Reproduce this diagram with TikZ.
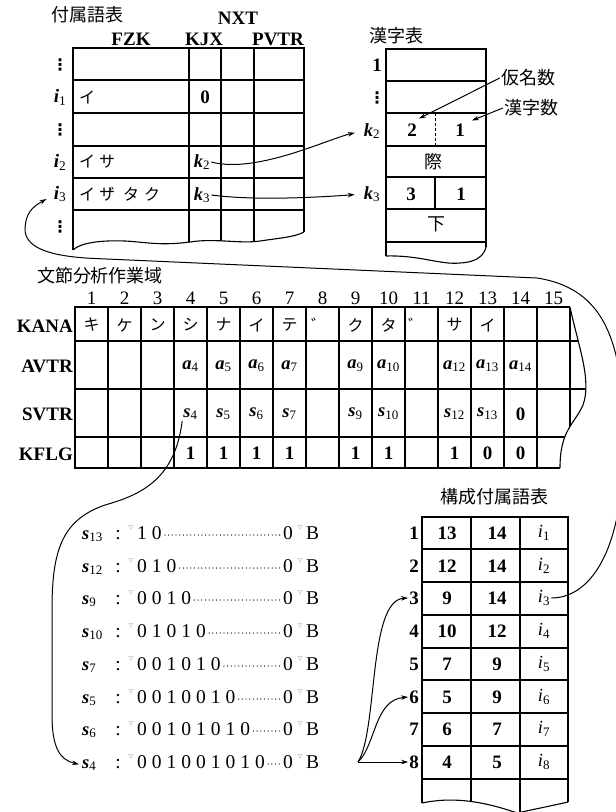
\documentclass[tikz,border=0pt]{standalone}
\usepackage{fontspec}
\setmainfont{Liberation Serif}
\newfontfamily\jpf{Noto Sans CJK JP}
\newfontfamily\symf{DejaVu Sans}
\usetikzlibrary{arrows.meta}
\newcommand\bivar[2]{\textbf{\textit{#1}}\textsubscript{\mdseries\upshape #2}}
\newcommand\ivar[2]{\textit{#1}\textsubscript{\upshape #2}}
\newcommand\dk{\kern5pt}
\newcommand\vdt{{\symf\bfseries ⋮}}
\tikzset{
  bl/.style={font=\fontsize{19}{21}\selectfont\bfseries, inner sep=1pt},
  rm/.style={font=\fontsize{19.5}{21}\selectfont, inner sep=0pt},
  cn/.style={font=\fontsize{19}{20}\selectfont, inner sep=1pt},
  bv/.style={font=\fontsize{18.5}{20}\selectfont, inner sep=1pt},
  jt/.style={font=\fontsize{18}{20}\selectfont\jpf, inner sep=1pt},
  kana/.style={font=\fontsize{16}{18}\selectfont\jpf, inner sep=1pt},
  vd/.style={font=\fontsize{16}{16}\selectfont, inner sep=0pt},
  tri/.style={font=\symf\fontsize{6}{6}\selectfont, text=black!45, inner sep=0pt},
  frame/.style={line width=1.8pt},
  grid/.style={line width=1.1pt},
  conn/.style={line width=1pt},
  arr/.style={conn, -{Stealth[length=7pt,width=4.5pt]}},
  leader/.style={line width=1.3pt, line cap=round, dash pattern=on 0pt off 3.7pt},
}
\begin{document}
\begin{tikzpicture}[x=1pt,y=-1pt]
\useasboundingbox (0,0) rectangle (616,812);
\fill[white] (0,0) rectangle (616,812);

%================ top table 付属語表
\node[jt] (t1) at (87,15) {付属語表};
\node[bl] (hNXT) at (238,18) {NXT};
\node[bl] (hFZK) at (131,39) {FZK};
\node[bl] (hKJX) at (204,39) {KJX};
\node[bl] (hPVTR) at (278,39) {PVTR};
\begin{scope}
\clip (73,48) -- (304,48) -- (304,232) .. controls (295,237) and (280,238) .. (260,241) .. controls (240,244) and (215,238) .. (190,242) .. controls (160,246) and (145,242) .. (125,241) .. controls (100,240) and (80,243) .. (73,250) -- cycle;
\foreach \y in {80,113,146,178,210} \draw[grid] (73,\y) -- (304,\y);
\foreach \x in {189,221,254} \draw[grid] (\x,48) -- (\x,260);
\end{scope}
\draw[frame] (73,250) -- (73,48) -- (304,48) -- (304,232);
\draw[grid] (304,232) .. controls (295,237) and (280,238) .. (260,241) .. controls (240,244) and (215,238) .. (190,242) .. controls (160,246) and (145,242) .. (125,241) .. controls (100,240) and (80,243) .. (73,250);
\node[vd] (tv1) at (60,65) {\vdt};
\node[bl] (ti1) at (60,97) {\bivar{i}{1}};
\node[vd] (tv2) at (60,130) {\vdt};
\node[bl] (ti2) at (60,162) {\bivar{i}{2}};
\node[bl] (ti3) at (60,194) {\bivar{i}{3}};
\node[vd] (tv3) at (60,227) {\vdt};
\node[kana, anchor=west] (tf1) at (78,97) {イ};
\node[kana, anchor=west] (tf2) at (78,162) {イ\kern4pt サ};
\node[kana, anchor=west] (tf3) at (78,194) {イ\kern4pt サ\kern-6pt ゛\kern-2pt タ\kern5pt ク};
\node[bl] (tk1) at (205,97) {0};
\node[bv] (tk2) at (202,162) {\bivar{k}{2}};
\node[bv] (tk3) at (202,195) {\bivar{k}{3}};

%================ kanji table 漢字表
\node[jt] (t2) at (396,36) {漢字表};
\begin{scope}
\clip (386,49) -- (486,49) -- (486,247) .. controls (484,255) and (478,262) .. (460,263) .. controls (440,265) and (420,255) .. (386,256) -- cycle;
\foreach \y in {81,113,146,177,209,242} \draw[grid] (386,\y) -- (486,\y);
\end{scope}
\draw[frame] (386,256) -- (386,49) -- (486,49) -- (486,247);
\draw[grid] (486,247) .. controls (484,255) and (478,262) .. (460,263) .. controls (440,265) and (420,255) .. (386,256);
\draw[line width=0.8pt, dash pattern=on 3pt off 2pt] (435,113) -- (435,146);
\draw[grid] (435,177) -- (435,209);
\node[bl] (kr1) at (377,65) {1};
\node[vd] (krv) at (377,98) {\vdt};
\node[bv] (kk2) at (372,131) {\bivar{k}{2}};
\node[bv] (kk3) at (372,194) {\bivar{k}{3}};
\node[bl] (kn2) at (412,130) {2};
\node[bl] (kn1) at (460,130) {1};
\node[jt] (kc1) at (433,162) {際};
\node[bl] (kn3) at (411,194) {3};
\node[bl] (kn4) at (461,194) {1};
\node[jt] (kc2) at (436,224) {下};
\node[jt] (kana) at (528,78) {仮名数};
\node[jt] (kanji) at (531,108) {漢字数};
\draw[arr] (kana.west) -- ([xshift=1pt,yshift=4pt]kn2.north east);
\draw[arr] (kanji.west) -- ([xshift=6pt,yshift=2pt]kn1.north east);
\draw[arr, shorten >=8pt] (tk2.east) .. controls +(45,12) and +(-35,8) .. (kk2.west);
\draw[arr, shorten >=8pt] (tk3.east) .. controls +(45,6) and +(-40,3) .. (kk3.west);

%================ middle table 文節分析作業域
\node[jt] (t3) at (100,276) {文節分析作業域};
\foreach \c in {1,...,15} \node[cn] (col\c) at ({58.5+33*\c},298) {\c};
\begin{scope}
\clip (75,307) -- (570,307) .. controls (578,345) and (592,380) .. (583,405) .. controls (574,425) and (560,430) .. (560,468) -- (75,468) -- cycle;
\foreach \y in {341,389,437} \draw[grid] (75,\y) -- (600,\y);
\foreach \c in {1,...,15} \draw[grid] ({75+33*\c},307) -- ({75+33*\c},468);
\end{scope}
\draw[frame] (560,468) -- (75,468) -- (75,307) -- (570,307);
\draw[grid] (570,307) .. controls (578,345) and (592,380) .. (583,405) .. controls (574,425) and (560,430) .. (560,468);
\node[bl, anchor=east] (rKANA) at (74,326) {KANA};
\node[bl, anchor=east] (rAVTR) at (74,366) {AVTR};
\node[bl, anchor=east] (rSVTR) at (74,414) {SVTR};
\node[bl, anchor=east] (rKFLG) at (74,454) {KFLG};
\foreach \t [count=\c] in {キ,ケ,ン,シ,ナ,イ,テ,{},ク,タ,{},サ,イ} \node[kana] (mk\c) at ({58.5+33*\c},325) {\t};
\node[kana] (dk8) at (319,325) {゛};
\node[kana] (dk11) at (416,325) {゛};
\foreach \c in {4,5,6,7,9,10,12,13,14} \node[bv] (ma\c) at ({58.5+33*\c},366) {\bivar{a}{\c}};
\foreach \c in {4,5,6,7,9,10,12,13} \node[bv] (ms\c) at ({58.5+33*\c},414) {\bivar{s}{\c}};
\node[bl] (ms14) at (520.5,414) {0};
\foreach \c/\v in {4/1,5/1,6/1,7/1,9/1,10/1,12/1,13/0,14/0} \node[bl] (mf\c) at ({58.5+33*\c},453) {\v};

%================ bit list
\foreach \s/\d/\y in {13/{1\dk0}/533, 12/{0\dk1\dk0}/566, 9/{0\dk0\dk1\dk0}/598, 10/{0\dk1\dk0\dk1\dk0}/631, 7/{0\dk0\dk1\dk0\dk1\dk0}/664, 5/{0\dk0\dk1\dk0\dk0\dk1\dk0}/697, 6/{0\dk0\dk1\dk0\dk1\dk0\dk1\dk0}/729, 4/{0\dk0\dk1\dk0\dk0\dk1\dk0\dk1\dk0}/762}{
  \node[bv, inner sep=0pt, anchor=base west] (ls\s) at (82,\y+6) {\bivar{s}{\s}};
  \node[rm, anchor=base] (lc\s) at (118,\y+6) {:};
  \node[tri] (lt\s) at (131,\y-5) {▽};
  \node[rm, anchor=base west] (ld\s) at (137,\y+6) {\d};
  \node[rm, anchor=base west] (lz\s) at (283,\y+6) {0};
  \node[tri] (lu\s) at (300,\y-5) {▽};
  \node[rm, anchor=base west] (lb\s) at (306,\y+6) {B};
  \draw[leader] ([xshift=3pt,yshift=4pt]ld\s.base east) -- ([xshift=-2pt,yshift=4pt]lz\s.base west);
}

%================ lower table 構成付属語表
\node[jt] (t4) at (494,497) {構成付属語表};
\begin{scope}
\clip (422,517) -- (568,517) -- (568,802) .. controls (555,805) and (540,808) .. (517,813) .. controls (480,800) and (450,797) .. (422,803) -- cycle;
\foreach \y in {549,582,615,648,680,713,746,779} \draw[grid] (422,\y) -- (568,\y);
\foreach \x in {471,520} \draw[grid] (\x,517) -- (\x,815);
\end{scope}
\draw[frame] (422,803) -- (422,517) -- (568,517) -- (568,802);
\draw[grid] (568,802) .. controls (555,805) and (540,808) .. (517,813) .. controls (480,800) and (450,797) .. (422,803);
\foreach \n/\a/\b/\y in {1/13/14/533, 2/12/14/566, 3/9/14/598, 4/10/12/631, 5/7/9/664, 6/5/9/697, 7/6/7/729, 8/4/5/762}{
  \node[bl, anchor=east] (r\n) at (420,\y) {\n};
  \node[bl] (ca\n) at (447,\y) {\a};
  \node[bl] (cb\n) at (497,\y) {\b};
  \node[bv] (ci\n) at (544,\y) {\ivar{i}{\n}};
}

%================ connectors
\coordinate (fork) at (358,762);
\draw[arr] (fork) -- (r8.west);
\draw[arr] (fork) .. controls (376,745) and (374,700) .. (r6.west);
\draw[arr] (fork) .. controls (378,730) and (368,600) .. (r3.west);
\draw[arr, shorten >=3pt] (ms4.south west) .. controls (175,480) and (140,495) .. (105,505) .. controls (62,520) and (52,550) .. (52,610) -- (52,715) .. controls (52,748) and (60,760) .. (ls4.west);
\draw[arr] (ci3.east) .. controls +(35,0) and (616,560) .. (622,480) .. controls (628,360) and (615,290) .. (537,278) -- (95,258.5) .. controls (50,256.5) and (24,248) .. (25,228) .. controls (26,213) and (32,207) .. ([xshift=-6pt,yshift=-5pt]ti3.west);
\end{tikzpicture}
\end{document}
